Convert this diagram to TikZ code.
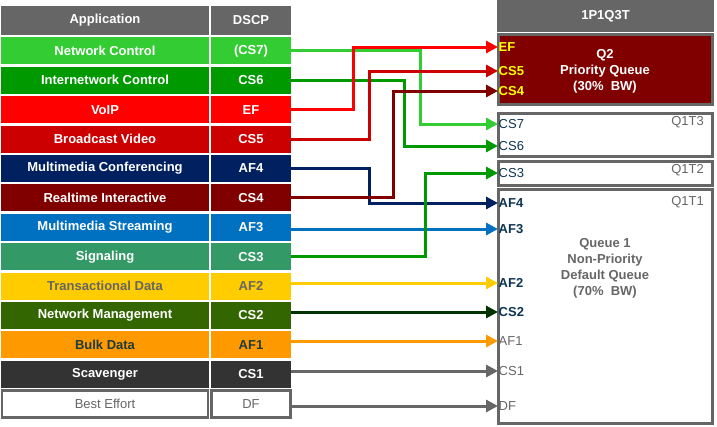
\documentclass[tikz,border=0pt]{standalone}
\usepackage{fontspec}
\setmainfont{Liberation Sans}
\usepackage{tikz}
\usetikzlibrary{positioning, arrows.meta}

\definecolor{headgray}{HTML}{666666}
\definecolor{netctl}{HTML}{33CC33}
\definecolor{inetctl}{HTML}{009900}
\definecolor{voip}{HTML}{FF0000}
\definecolor{bcvideo}{HTML}{CC0000}
\definecolor{mmconf}{HTML}{002060}
\definecolor{rtint}{HTML}{800000}
\definecolor{mmstream}{HTML}{0070C0}
\definecolor{signal}{HTML}{339966}
\definecolor{trdata}{HTML}{FFCC00}
\definecolor{netmgmt}{HTML}{336600}
\definecolor{bulk}{HTML}{FF9900}
\definecolor{bulktext}{HTML}{1F3B3B}
\definecolor{scav}{HTML}{333333}
\definecolor{cstwoline}{HTML}{003300}
\definecolor{lbldark}{HTML}{0E3553}
\definecolor{lblyellow}{HTML}{FFFF00}

\newcommand{\tabfont}{\fontsize{13}{16}\selectfont}
\tikzstyle{cell} = [rectangle, inner sep=0pt, outer sep=0pt, minimum height=27pt, text=white, font=\tabfont\bfseries]
\tikzstyle{appcell} = [cell, minimum width=208pt]
\tikzstyle{dscpcell} = [cell, minimum width=80pt]
\tikzstyle{queue} = [rectangle, draw=headgray, line width=3pt, inner sep=0pt, outer sep=0pt, minimum width=214pt]
\tikzstyle{qtext} = [align=center, inner sep=0pt, font=\tabfont\bfseries]
\tikzstyle{dscplabel} = [anchor=west, inner sep=0.5pt, font=\tabfont]
\tikzstyle{tierlabel} = [anchor=east, inner sep=0pt, text=headgray, font=\tabfont]
\tikzstyle{arrow} = [line width=3pt, -{Triangle[length=12pt,width=12pt]}]

\begin{document}
\begin{tikzpicture}
\useasboundingbox (0,0) rectangle (717pt,-426pt);

% Table
\node (apphead) [appcell, fill=headgray, minimum height=29pt, anchor=north] at (105pt,-6pt) {Application};
\node (dscphead) [dscpcell, fill=headgray, minimum height=29pt, right=2pt of apphead] {DSCP};

\node (app1) [appcell, fill=netctl, anchor=north] at ([yshift=-2.4pt]apphead.south) {Network Control};
\node (dscp1) [dscpcell, fill=netctl, right=2pt of app1] {(CS7)};
\node (app2) [appcell, fill=inetctl, anchor=north] at ([yshift=-2.4pt]app1.south) {Internetwork Control};
\node (dscp2) [dscpcell, fill=inetctl, right=2pt of app2] {CS6};
\node (app3) [appcell, fill=voip, anchor=north] at ([yshift=-2.4pt]app2.south) {VoIP};
\node (dscp3) [dscpcell, fill=voip, right=2pt of app3] {EF};
\node (app4) [appcell, fill=bcvideo, anchor=north] at ([yshift=-2.4pt]app3.south) {Broadcast Video};
\node (dscp4) [dscpcell, fill=bcvideo, right=2pt of app4] {CS5};
\node (app5) [appcell, fill=mmconf, anchor=north] at ([yshift=-2.4pt]app4.south) {Multimedia Conferencing};
\node (dscp5) [dscpcell, fill=mmconf, right=2pt of app5] {AF4};
\node (app6) [appcell, fill=rtint, anchor=north] at ([yshift=-2.4pt]app5.south) {Realtime Interactive};
\node (dscp6) [dscpcell, fill=rtint, right=2pt of app6] {CS4};
\node (app7) [appcell, fill=mmstream, anchor=north] at ([yshift=-2.4pt]app6.south) {Multimedia Streaming};
\node (dscp7) [dscpcell, fill=mmstream, right=2pt of app7] {AF3};
\node (app8) [appcell, fill=signal, anchor=north] at ([yshift=-2.4pt]app7.south) {Signaling};
\node (dscp8) [dscpcell, fill=signal, right=2pt of app8] {CS3};
\node (app9) [appcell, fill=trdata, text=headgray, anchor=north] at ([yshift=-2.4pt]app8.south) {Transactional Data};
\node (dscp9) [dscpcell, fill=trdata, text=headgray, right=2pt of app9] {AF2};
\node (app10) [appcell, fill=netmgmt, anchor=north] at ([yshift=-2.4pt]app9.south) {Network Management};
\node (dscp10) [dscpcell, fill=netmgmt, right=2pt of app10] {CS2};
\node (app11) [appcell, fill=bulk, text=bulktext, anchor=north] at ([yshift=-2.4pt]app10.south) {Bulk Data};
\node (dscp11) [dscpcell, fill=bulk, text=bulktext, right=2pt of app11] {AF1};
\node (app12) [appcell, fill=scav, anchor=north] at ([yshift=-2.4pt]app11.south) {Scavenger};
\node (dscp12) [dscpcell, fill=scav, right=2pt of app12] {CS1};
\node (app13) [appcell, fill=white, draw=headgray, line width=2.5pt, minimum width=206pt, text=headgray, font=\tabfont, anchor=north] at ([yshift=-2.5pt]app12.south) {Best Effort};
\node (dscp13) [dscpcell, fill=white, draw=headgray, line width=2.5pt, minimum width=79pt, text=headgray, font=\tabfont, right=3.5pt of app13] {DF};

% Queues
\node (qhead) [rectangle, fill=headgray, minimum width=217pt, minimum height=32pt, text=white, font=\tabfont\bfseries] at (605.5pt,-16pt) {1P1Q3T};
\node (q2) [queue, fill=rtint, minimum height=70pt] at (605.5pt,-69.5pt) {};
\node (q1t3) [queue, fill=white, minimum height=43pt] at (605.5pt,-135pt) {};
\node (q1t2) [queue, fill=white, minimum height=24pt] at (605.5pt,-173.5pt) {};
\node (q1t1) [queue, fill=white, minimum height=234pt] at (605.5pt,-306.5pt) {};

\node (q2text) [qtext, text=white] at (605pt,-71.5pt) {Q2\\Priority Queue\\(30\%\ \ BW)};
\node (q1text) [qtext, text=headgray] at (605pt,-268pt) {Queue 1\\Non-Priority\\Default Queue\\(70\%\ \ BW)};

\node (t3) [tierlabel] at (704pt,-122pt) {Q1T3};
\node (t2) [tierlabel] at (704pt,-170pt) {Q1T2};
\node (t1) [tierlabel] at (704pt,-202pt) {Q1T1};

% DSCP marks in the queues
\node (lEF) [dscplabel, text=lblyellow, font=\tabfont\bfseries] at (498pt,-47pt) {EF};
\node (lCS5) [dscplabel, text=lblyellow, font=\tabfont\bfseries] at (498pt,-71pt) {CS5};
\node (lCS4) [dscplabel, text=lblyellow, font=\tabfont\bfseries] at (498pt,-91pt) {CS4};
\node (lCS7) [dscplabel, text=lbldark] at (498pt,-124pt) {CS7};
\node (lCS6) [dscplabel, text=lbldark] at (498pt,-146pt) {CS6};
\node (lCS3) [dscplabel, text=lbldark] at (498pt,-173pt) {CS3};
\node (lAF4) [dscplabel, text=lbldark, font=\tabfont\bfseries] at (498pt,-203pt) {AF4};
\node (lAF3) [dscplabel, text=lbldark, font=\tabfont\bfseries] at (498pt,-229pt) {AF3};
\node (lAF2) [dscplabel, text=lbldark, font=\tabfont\bfseries] at (498pt,-283pt) {AF2};
\node (lCS2) [dscplabel, text=lbldark, font=\tabfont\bfseries] at (498pt,-312pt) {CS2};
\node (lAF1) [dscplabel, text=headgray] at (498pt,-341pt) {AF1};
\node (lCS1) [dscplabel, text=headgray] at (498pt,-371pt) {CS1};
\node (lDF) [dscplabel, text=headgray] at (498pt,-406pt) {DF};

% Arrows
\draw [arrow, netctl] (dscp1.east) -- ++(129pt,0) |- (lCS7.west);
\draw [arrow, inetctl] (dscp2.east) -- ++(113pt,0) |- (lCS6.west);
\draw [arrow, voip] (dscp3.east) -- ++(62pt,0) |- (lEF.west);
\draw [arrow, bcvideo] (dscp4.east) -- ++(78pt,0) |- (lCS5.west);
\draw [arrow, mmconf] (dscp5.east) -- ++(78pt,0) |- (lAF4.west);
\draw [arrow, rtint] (dscp6.east) -- ++(102pt,0) |- (lCS4.west);
\draw [arrow, mmstream] (dscp7.east |- lAF3) -- (lAF3.west);
\draw [arrow, inetctl] (dscp8.east) -- ++(134pt,0) |- (lCS3.west);
\draw [arrow, trdata] (dscp9.east |- lAF2) -- (lAF2.west);
\draw [arrow, cstwoline] (dscp10.east |- lCS2) -- (lCS2.west);
\draw [arrow, bulk] (dscp11.east |- lAF1) -- (lAF1.west);
\draw [arrow, headgray] (dscp12.east |- lCS1) -- (lCS1.west);
\draw [arrow, headgray] (dscp13.east |- lDF) -- (lDF.west);

\end{tikzpicture}
\end{document}
